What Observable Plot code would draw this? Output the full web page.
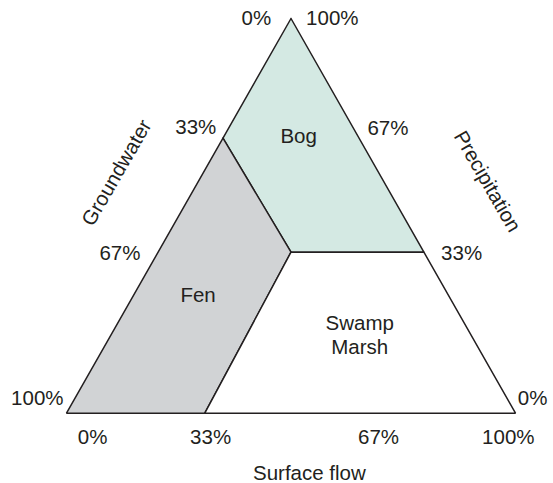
<!DOCTYPE html>
<html>
<head>
<meta charset="utf-8">
<script src="https://cdn.jsdelivr.net/npm/d3@7"></script>
<script src="https://cdn.jsdelivr.net/npm/@observablehq/plot@0.6"></script>
<style>
  html, body { margin: 0; padding: 0; background: #ffffff; }
  #chart svg { display: block; }
</style>
</head>
<body>
<div id="chart"></div>
<script>
// Region polygons, in fractions of the triangle frame (u: along base, v: height)
const regionNames = ["Bog", "Fen", "Swamp\nMarsh"];
const bogU = [0.5, 0.3485, 0.5, 0.796];
const bogV = [1, 0.697, 0.408, 0.408];
const fenU = [0.3485, 0.5, 0.308, 0];
const fenV = [0.697, 0.408, 0, 0];
const swampU = [0.5, 0.796, 1, 0.308];
const swampV = [0.408, 0.408, 0, 0];

// Region label anchors
const regionLabelU = [0.517, 0.293, 0.653];
const regionLabelV = [0.703, 0.302, 0.1996];

// Tick labels per axis and their anchors
const groundwaterTicks = ["0%", "33%", "67%", "100%"];
const groundwaterTickU = [0.423, 0.288, 0.119, -0.065];
const groundwaterTickV = [0.999, 0.724, 0.405, 0.037];
const precipitationTicks = ["100%", "67%", "33%", "0%"];
const precipitationTickU = [0.592, 0.716, 0.880, 1.038];
const precipitationTickV = [0.999, 0.721, 0.405, 0.037];
const surfaceTicks = ["0%", "33%", "67%", "100%"];
const surfaceTickU = [0.058, 0.321, 0.695, 0.984];
const surfaceTickV = [-0.062, -0.062, -0.062, -0.062];

// Axis titles
const axisTitles = ["Groundwater", "Precipitation", "Surface flow"];
const axisTitleU = [0.112, 0.937, 0.541];
const axisTitleV = [0.609, 0.587, -0.152];
const axisTitleAngle = [-60, 60, 0];

const fills = ["#d4e9e3", "#d1d3d5", "#ffffff"];
const ink = "#231f20";
const font = "'Liberation Sans', Arial, Helvetica, sans-serif";
const fs = 20.5;

function poly(us, vs) {
  const pts = us.map((u, i) => ({u, v: vs[i]}));
  pts.push(pts[0]);
  return pts;
}
const polys = [poly(bogU, bogV), poly(fenU, fenV), poly(swampU, swampV)];

const regionLabels = regionNames.map((t, i) => ({t, u: regionLabelU[i], v: regionLabelV[i]}));
const ticks = [
  ...groundwaterTicks.map((t, i) => ({t, u: groundwaterTickU[i], v: groundwaterTickV[i]})),
  ...precipitationTicks.map((t, i) => ({t, u: precipitationTickU[i], v: precipitationTickV[i]})),
  ...surfaceTicks.map((t, i) => ({t, u: surfaceTickU[i], v: surfaceTickV[i]}))
];

const marks = [];
polys.forEach((p, i) => {
  marks.push(Plot.line(p, {x: "u", y: "v", fill: fills[i], stroke: ink, strokeWidth: 1.5, strokeLinejoin: "miter"}));
});
marks.push(Plot.text(regionLabels, {x: "u", y: "v", text: "t", fill: ink, fontSize: fs, lineHeight: 1.17, textAnchor: "middle", lineAnchor: "middle"}));
marks.push(Plot.text(ticks, {x: "u", y: "v", text: "t", fill: ink, fontSize: fs, textAnchor: "middle", lineAnchor: "middle"}));
axisTitles.forEach((t, i) => {
  marks.push(Plot.text([{t, u: axisTitleU[i], v: axisTitleV[i]}], {x: "u", y: "v", text: "t", fill: ink, fontSize: fs, rotate: axisTitleAngle[i], textAnchor: "middle", lineAnchor: "middle"}));
});

const chart = Plot.plot({
  width: 553,
  height: 483,
  marginLeft: 66,
  marginRight: 38,
  marginTop: 18,
  marginBottom: 70.3,
  x: {domain: [0, 1], axis: null},
  y: {domain: [0, 1], axis: null},
  style: {fontFamily: font, fontSize: fs + "px", background: "#ffffff", color: ink, overflow: "visible"},
  marks
});
document.getElementById("chart").appendChild(chart);
</script>
</body>
</html>
